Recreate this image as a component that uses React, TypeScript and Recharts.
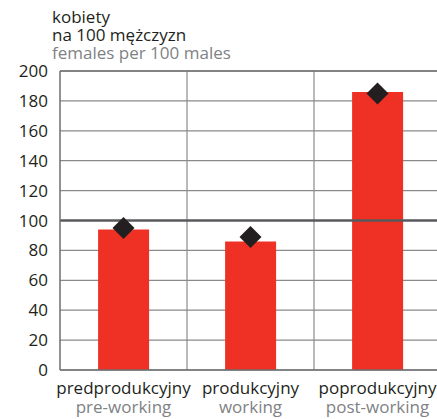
import { ComposedChart, Bar, Line, XAxis, YAxis, CartesianGrid, ReferenceLine } from 'recharts'

const categories = ['predprodukcyjny', 'produkcyjny', 'poprodukcyjny']
const categoriesEn = ['pre-working', 'working', 'post-working']
const barValues = [94, 86, 186]
const markerValues = [95, 89, 185]
const yTicks = [0, 20, 40, 60, 80, 100, 120, 140, 160, 180, 200]

const data = categories.map((c, i) => ({
  name: c,
  en: categoriesEn[i],
  value: barValues[i],
  marker: markerValues[i],
}))

const FONT = '"Open Sans", "Noto Sans", sans-serif'
const DARK = '#231f20'
const GRAY = '#808285'

function XTick(props: any) {
  const { x, y, payload, index } = props
  return (
    <g>
      <text x={x} y={y + 16} textAnchor="middle" fontSize={17} fill={DARK} fontFamily={FONT}>
        {payload.value}
      </text>
      <text x={x} y={y + 35} textAnchor="middle" fontSize={17} fill={GRAY} fontFamily={FONT}>
        {categoriesEn[index]}
      </text>
    </g>
  )
}

function Diamond(props: any) {
  const { cx, cy } = props
  if (cx == null || cy == null) return null
  const r = 11
  return (
    <polygon
      points={`${cx},${cy - r} ${cx + r},${cy} ${cx},${cy + r} ${cx - r},${cy}`}
      fill={DARK}
    />
  )
}

export default function App() {
  return (
    <div style={{ position: 'absolute', left: 0, top: 0, width: 437, height: 419, overflow: 'hidden', background: '#fff', fontFamily: FONT }}>
      <div style={{ position: 'absolute', left: 52, top: 8, fontSize: 17, lineHeight: '18px', color: DARK, zIndex: 1 }}>
        <div>kobiety</div>
        <div>na 100 mężczyzn</div>
        <div style={{ color: GRAY }}>females per 100 males</div>
      </div>
      <ComposedChart
        width={441}
        height={419}
        data={data}
        margin={{ top: 71, right: 0, bottom: 0, left: 0 }}
        barCategoryGap="30%"
      >
        <CartesianGrid
          stroke="#8a8a8a"
          strokeWidth={1.2}
          verticalCoordinatesGenerator={({ offset }: any) => [
            offset.left + offset.width / 3,
            offset.left + (2 * offset.width) / 3,
          ]}
        />
        <XAxis
          dataKey="name"
          axisLine={{ stroke: '#6d6e71', strokeWidth: 1.5 }}
          tickLine={false}
          height={49}
          interval={0}
          tick={<XTick />}
        />
        <YAxis
          domain={[0, 200]}
          ticks={yTicks}
          width={60}
          axisLine={{ stroke: '#6d6e71', strokeWidth: 1.5 }}
          tickLine={false}
          tickSize={0}
          tickMargin={12}
          tick={{ fontSize: 17, fill: DARK, fontFamily: FONT }}
        />
        <ReferenceLine y={200} stroke="#6d6e71" strokeWidth={1.5} />
        <Bar dataKey="value" fill="#ee3124" isAnimationActive={false} />
        <ReferenceLine y={100} stroke="#58595b" strokeWidth={2.5} />
        <Line
          dataKey="marker"
          stroke="none"
          dot={<Diamond />}
          activeDot={false}
          isAnimationActive={false}
        />
      </ComposedChart>
    </div>
  )
}
